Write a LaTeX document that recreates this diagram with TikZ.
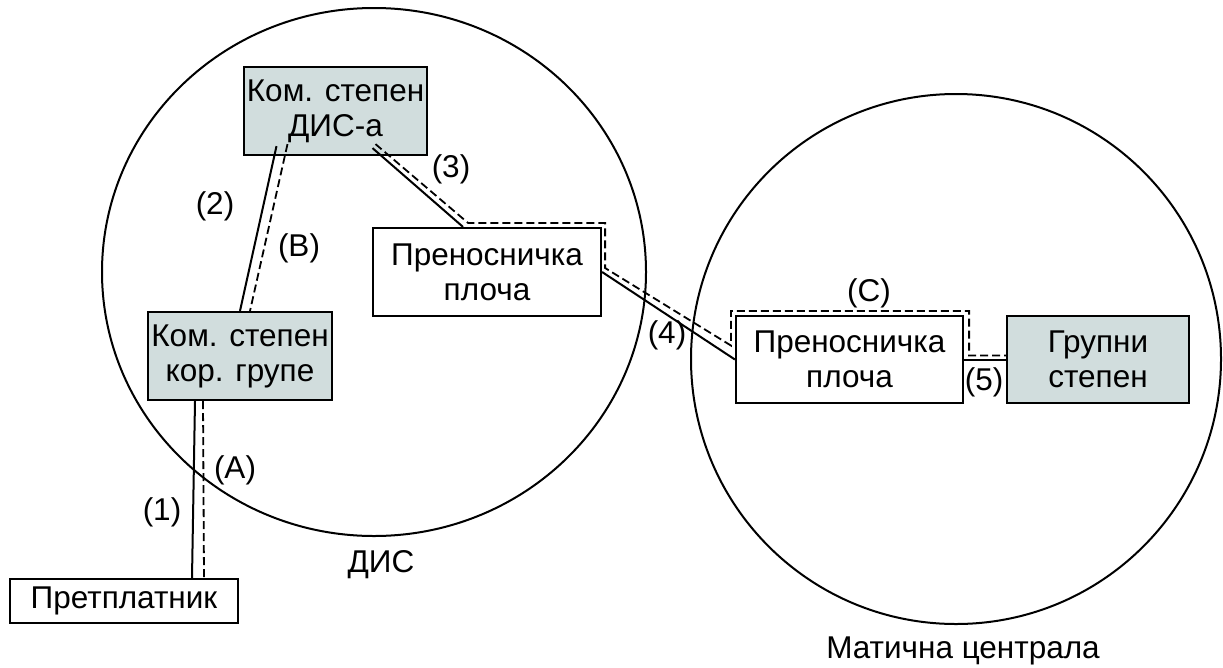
\documentclass[tikz,border=0pt]{standalone}
\usepackage{fontspec}
\setmainfont{Liberation Sans}
\usepackage{xcolor}
\usepackage{tikz}
\definecolor{stepengray}{RGB}{209,221,221}

\begin{document}
\begin{tikzpicture}[x=1pt,y=-1pt,
        box/.style={draw, line width=2.2pt, align=center, inner sep=0pt, minimum height=#1},
        box/.default=88pt,
        stepen/.style={box, fill=stepengray},
        lbl/.style={inner sep=0pt},
        link/.style={line width=2pt},
        route/.style={line width=1.8pt, dash pattern=on 8pt off 4pt},
        every node/.style={font=\fontsize{31.5}{35}\selectfont},
    ]
    \useasboundingbox (0,0) rectangle (1223,667);
    % DIS
    \draw[link] (374,272) ellipse [x radius=272pt, y radius=264pt];
    \node[lbl] (dislbl) at (381,565) {ДИС};
    % maticna centrala
    \draw[link] (956,359) circle [radius=265pt];
    \node[lbl] (mclbl) at (963,651) {Матична централа};
    % blokovi
    \node[stepen, minimum width=183pt] (dis) at (335.5,111) {Ком. степен\\ДИС-а};
    \node[stepen, minimum width=184pt] (kor) at (240,356) {Ком. степен\\кор. групе};
    \node[box=44pt, minimum width=228pt] (pret) at (124,601) {Претплатник};
    \node[box, minimum width=228pt] (pl1) at (487,272) {Преносничка\\плоча};
    \node[box=87pt, minimum width=227pt] (pl2) at (849.5,359.5) {Преносничка\\плоча};
    \node[stepen, minimum height=87pt, minimum width=182pt] (grp) at (1098,359.5) {Групни\\степен};
    % veze (1)-(5)
    \draw[link] ([xshift=-45pt]kor.south) -- ([xshift=68pt]pret.north);
    \draw[link] ([xshift=-59pt,yshift=10pt]dis.south) -- (kor.north);
    \draw[link] ([xshift=37pt,yshift=8pt]dis.south) -- ([xshift=-24pt]pl1.north);
    \draw[link] (pl1.east) -- (pl2.west);
    \draw[link] (pl2.east) -- (grp.west);
    % putanje (A), (B), (C)
    \draw[route] ([xshift=-37pt]kor.south) -- ([xshift=80pt]pret.north);
    \draw[route] ([xshift=-48pt,yshift=12pt]dis.south) -- ([xshift=10pt]kor.north);
    \draw[route] ([xshift=40pt,yshift=12pt]dis.south) -- ([xshift=-19pt,yshift=4pt]pl1.north)
        -| ([xshift=3pt,yshift=4pt]pl1.east) -- ([xshift=-4pt,yshift=14pt]pl2.west)
        |- ([yshift=4pt]pl2.north) -| ([xshift=5pt,yshift=4pt]pl2.east) -- ([yshift=4pt]grp.west);
    % oznake
    \node[lbl] (lblone) at (162,512) {(1)};
    \node[lbl] (lbltwo) at (215,206) {(2)};
    \node[lbl] (lblthree) at (451,169) {(3)};
    \node[lbl] (lblfour) at (667,335) {(4)};
    \node[lbl] (lblfive) at (984,382) {(5)};
    \node[lbl] (lblA) at (235,470) {(A)};
    \node[lbl] (lblB) at (299,248) {(B)};
    \node[lbl] (lblC) at (869,293) {(C)};
\end{tikzpicture}
\end{document}
